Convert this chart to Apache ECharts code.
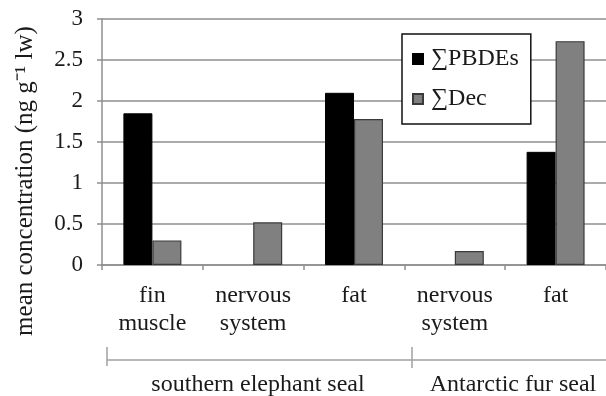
<!DOCTYPE html>
<html>
<head>
<meta charset="utf-8">
<script src="https://cdn.jsdelivr.net/npm/echarts@6/dist/echarts.min.js"></script>
<style>
html,body{margin:0;padding:0;background:#fff;}
#c{width:606px;height:396px;}
</style>
</head>
<body>
<div id="c"></div>
<script>
const categories = ['fin\nmuscle', 'nervous\nsystem', 'fat', 'nervous\nsystem', 'fat'];
const groups = ['southern elephant seal', 'Antarctic fur seal'];
const pbdes = [1.85, null, 2.1, null, 1.38];
const dec = [0.30, 0.52, 1.78, 0.17, 2.73];
const yTicks = [0, 0.5, 1, 1.5, 2, 2.5, 3];

const FONT = '"Liberation Serif", "Times New Roman", serif';
const TXT = '#1a1a1a';
const GRID = '#8f8f8f';

const chart = echarts.init(document.getElementById('c'));
chart.setOption({
  animation: false,
  backgroundColor: '#fff',
  grid: { left: 102, top: 19, width: 511, height: 246, containLabel: false },
  legend: {
    orient: 'vertical',
    left: 402, top: 34,
    padding: [13, 12, 13, 10],
    itemGap: 16,
    itemWidth: 10, itemHeight: 10,
    backgroundColor: '#fff',
    borderColor: '#111', borderWidth: 1.5,
    textStyle: { fontFamily: FONT, fontSize: 24, color: TXT, padding: [0, 0, 0, 3] },
    data: [{ name: '\u2211PBDEs', icon: 'rect' }, { name: '\u2211Dec', icon: 'rect' }]
  },
  xAxis: {
    type: 'category',
    data: categories,
    axisLine: { lineStyle: { color: GRID, width: 1.5 } },
    axisTick: { show: true, length: 5, inside: false, lineStyle: { color: GRID, width: 1.5 } },
    axisLabel: { fontFamily: FONT, fontSize: 24, color: TXT, lineHeight: 28, margin: 17, interval: 0 }
  },
  yAxis: {
    type: 'value',
    min: 0, max: 3, interval: 0.5,
    axisLine: { show: true, lineStyle: { color: GRID, width: 1.5 } },
    axisTick: { show: true, length: 5, lineStyle: { color: GRID, width: 1.5 } },
    splitLine: { lineStyle: { color: GRID, width: 1.5 } },
    axisLabel: {
      fontFamily: FONT, fontSize: 23, color: TXT, margin: 19,
      formatter: v => (yTicks.indexOf(v) >= 0 ? String(v) : '')
    }
  },
  series: [
    {
      name: '\u2211PBDEs', type: 'bar', data: pbdes,
      barWidth: 29, barGap: '0%',
      itemStyle: { color: '#000', borderColor: '#000', borderWidth: 1 }
    },
    {
      name: '\u2211Dec', type: 'bar', data: dec,
      barWidth: 29,
      itemStyle: { color: '#808080', borderColor: '#3a3a3a', borderWidth: 1.2 }
    }
  ],
  graphic: [
    { type: 'line', shape: { x1: 107, y1: 360, x2: 606, y2: 360 }, style: { stroke: '#a0a0a0', lineWidth: 1.5 } },
    { type: 'line', shape: { x1: 107, y1: 347, x2: 107, y2: 366 }, style: { stroke: '#a0a0a0', lineWidth: 1.5 } },
    { type: 'line', shape: { x1: 412, y1: 347, x2: 412, y2: 368 }, style: { stroke: '#a0a0a0', lineWidth: 1.5 } },
    { type: 'text', x: 258, y: 385, style: { text: groups[0], font: '24px ' + FONT, fill: TXT, textAlign: 'center', textVerticalAlign: 'middle' } },
    { type: 'text', x: 513, y: 385, style: { text: groups[1], font: '24px ' + FONT, fill: TXT, textAlign: 'center', textVerticalAlign: 'middle' } },
    { type: 'text', x: 25, y: 181, rotation: Math.PI / 2,
      style: { text: 'mean concentration (ng g\u207B\u00B9 lw)', font: '25px ' + FONT, fill: TXT, textAlign: 'center', textVerticalAlign: 'middle' } }
  ]
});
</script>
</body>
</html>
